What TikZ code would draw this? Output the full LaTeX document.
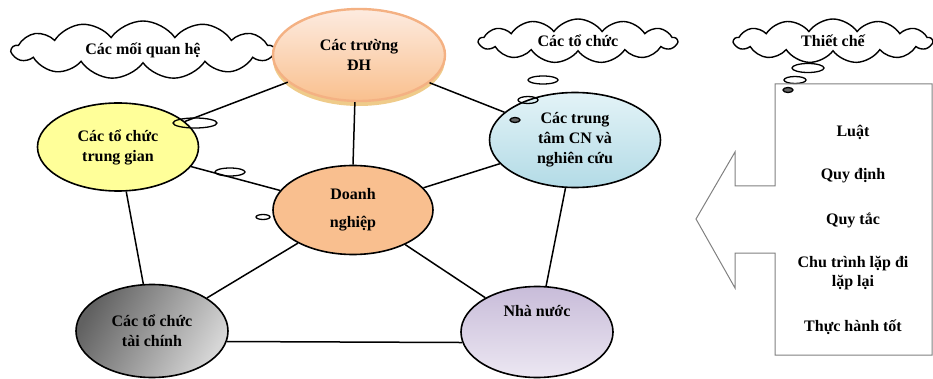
\documentclass[tikz,border=0pt]{standalone}
\usepackage{fontspec}
\setmainfont{Liberation Serif}
\usetikzlibrary{shapes.geometric,shapes.symbols,shadows}
\definecolor{peachtop}{HTML}{FDEBE0}
\definecolor{peachbot}{HTML}{F9C08E}
\definecolor{peachline}{HTML}{F4B183}
\definecolor{peachshadow}{HTML}{EFCB8A}
\definecolor{paleyellow}{HTML}{FFFF99}
\definecolor{apricot}{HTML}{F9BF8F}
\definecolor{icetop}{HTML}{E3F3F7}
\definecolor{icebot}{HTML}{B3DBE6}
\definecolor{lilactop}{HTML}{C8BCD9}
\definecolor{lilacbot}{HTML}{ECE7F2}

\begin{document}
\begin{tikzpicture}[x=1pt,y=-1pt,
    org/.style={ellipse,draw,line width=1.6pt,inner sep=0pt,align=center,
      font=\bfseries\fontsize{16}{20}\selectfont},
    thought/.style={cloud,draw,line width=1.4pt,cloud puffs=13,cloud puff arc=110,
      cloud ignores aspect,fill=white,inner sep=0pt,font=\bfseries\fontsize{16}{20}\selectfont},
    bubble/.style={line width=1.3pt},
    link/.style={line width=1.5pt},
    rule/.style={font=\bfseries\fontsize{16}{19}\selectfont,align=center}]
  \useasboundingbox (0,0) rectangle (933,379);

  % thought clouds
  \node[thought,minimum width=262pt,minimum height=58pt] (qh) at (143,50) {Các mối quan hệ};
  \node[thought,minimum width=198pt,minimum height=44pt] (tcc) at (578,41) {Các tổ chức};
  \node[thought,minimum width=198pt,minimum height=44pt] (thc) at (833,41) {Thiết chế};

  % actors
  \node[org,minimum width=172pt,minimum height=92pt,draw=peachline,line width=2.4pt,
    top color=peachtop,bottom color=peachbot,
    drop shadow={shadow xshift=0pt,shadow yshift=-5pt,fill=peachshadow,opacity=1}]
    (dh) at (359,55) {Các trường\\ĐH};
  \node[org,minimum width=161pt,minimum height=88pt,fill=paleyellow] (tg) at (118,147) {Các tổ chức\\trung gian};
  \node[org,minimum width=160pt,minimum height=89pt,fill=apricot] (dn) at (353,210) {Doanh\\[8pt]nghiệp};
  \node[org,minimum width=171pt,minimum height=95pt,top color=icetop,bottom color=icebot] (tt) at (575,140) {Các trung\\tâm CN và\\nghiên cứu};
  \node[org,minimum width=152pt,minimum height=93pt,left color=black!62,right color=black!16,shading angle=60] (tc) at (152,331) {Các tổ chức\\tài chính};
  \node[org,minimum width=152pt,minimum height=91pt,top color=lilactop,bottom color=lilacbot] (nn) at (537,332) {Nhà nước\\[22pt]};

  % links
  \draw[link] (dh) -- (tg);
  \draw[link] (dh.265) -- (dn.north);
  \draw[link] (dh) -- (tt);
  \draw[link] (tg) -- (dn);
  \draw[link] (dn) -- (tt);
  \draw[link] (tg) -- (tc);
  \draw[link] (dn) -- (tc);
  \draw[link] (dn) -- (nn);
  \draw[link] (tt) -- (nn);
  \draw[link] (tc.352) -- (nn.188);

  % small bubbles
  \draw[bubble] (195,123) ellipse (22 and 5);
  \draw[bubble] (230,172) ellipse (15 and 4);
  \draw[bubble] (263,217) ellipse (7 and 2.5);
  \draw[bubble] (543,80) ellipse (15 and 4);
  \draw[bubble] (528,100) ellipse (10 and 3.5);
  \draw[bubble,fill=black!60] (515,120) ellipse (5 and 2.5);
  \draw[bubble] (808,68) ellipse (16 and 4.5);
  \draw[bubble] (795,80) ellipse (11 and 3.5);
  \draw[bubble,fill=black!60] (788,90) ellipse (5 and 2.5);

  % callout with rules
  \draw[gray,line width=1pt] (775,84) -- (932,84) -- (932,355) -- (775,355) -- (775,253)
    -- (735,253) -- (735,288) -- (696,219) -- (735,152) -- (735,186) -- (775,186) -- cycle;
  \node[rule] (luat) at (853,132) {Luật};
  \node[rule] (qd) at (853,176) {Quy định};
  \node[rule] (qt) at (853,220) {Quy tắc};
  \node[rule] (ct) at (853,273) {Chu trình lặp đi\\lặp lại};
  \node[rule] (th) at (853,327) {Thực hành tốt};
\end{tikzpicture}
\end{document}
